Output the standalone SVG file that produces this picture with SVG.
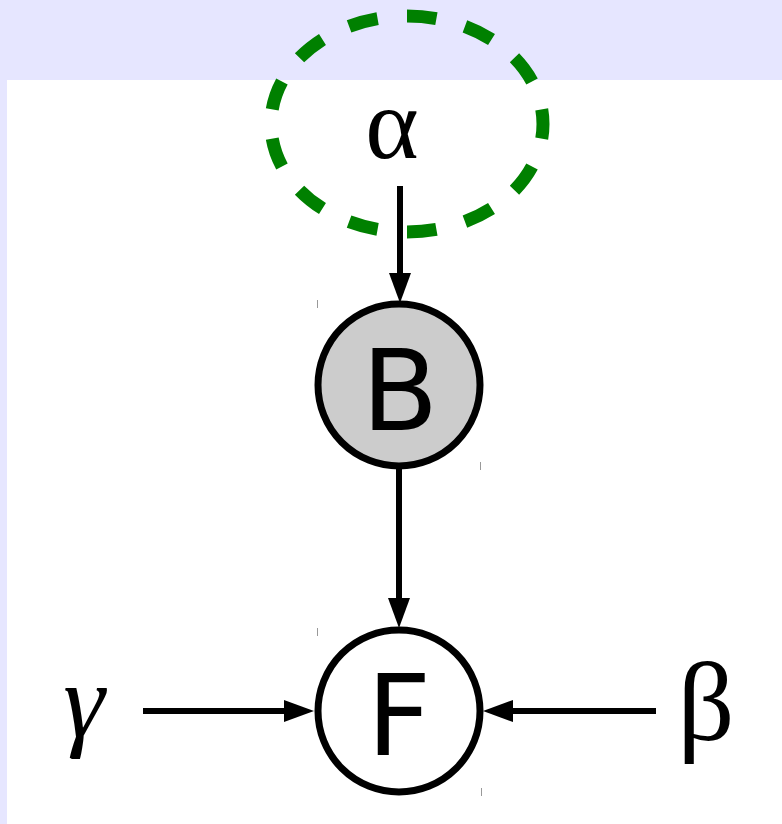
<svg xmlns="http://www.w3.org/2000/svg" width="782" height="824" viewBox="0 0 782 824">
  <style>
    .edge { stroke: #000; stroke-width: 6; fill: none; }
    .node { stroke: #000; stroke-width: 7; }
    .letter { font-family: "DejaVu Sans", sans-serif; font-size: 112px; fill: #000; }
    .tick { stroke: #999; stroke-width: 1; }
  </style>
  <defs>
    <marker id="arrow" viewBox="0 0 30 22" refX="20" refY="11" markerWidth="30" markerHeight="22" markerUnits="userSpaceOnUse" orient="auto">
      <path d="M0,0 L30,11 L0,22 z" fill="#000"/>
    </marker>
  </defs>
  <rect x="0" y="0" width="782" height="824" fill="#e6e6ff"/>
  <rect x="7" y="80" width="775" height="744" fill="#fff"/>

  <g id="alpha">
    <ellipse cx="407" cy="124" rx="136" ry="108" fill="none" stroke="#008000" stroke-width="13" pathLength="260" stroke-dasharray="10 10" stroke-dashoffset="5"/>
    <text x="392" y="158" text-anchor="middle" font-family="Liberation Serif, serif" font-size="102px" fill="#000">α</text>
  </g>

  <g id="connectors">
    <line class="edge" x1="400" y1="186" x2="400" y2="293" marker-end="url(#arrow)"/>
    <line class="edge" x1="399" y1="467" x2="399" y2="618" marker-end="url(#arrow)"/>
    <line class="edge" x1="143" y1="711" x2="304" y2="711" marker-end="url(#arrow)"/>
    <line class="edge" x1="656" y1="711" x2="493" y2="711" marker-end="url(#arrow)"/>
  </g>

  <g id="B">
    <circle class="node" cx="399" cy="385" r="81" fill="#cccccc"/>
    <text class="letter" x="400" y="430" text-anchor="middle">B</text>
    <line class="tick" x1="317.5" y1="300" x2="317.5" y2="308"/>
    <line class="tick" x1="480.5" y1="462" x2="480.5" y2="470"/>
  </g>

  <g id="F">
    <circle class="node" cx="399" cy="711" r="81" fill="#fff"/>
    <text class="letter" x="399" y="755" text-anchor="middle">F</text>
    <line class="tick" x1="317.5" y1="628" x2="317.5" y2="636"/>
    <line class="tick" x1="481.5" y1="788" x2="481.5" y2="796"/>
  </g>

  <g id="gamma">
    <text x="84" y="736" text-anchor="middle" font-family="Liberation Serif, serif" font-style="italic" font-size="105px" fill="#000">γ</text>
  </g>

  <g id="beta">
    <text x="706" y="740" text-anchor="middle" font-family="Liberation Serif, serif" font-size="112px" fill="#000">β</text>
  </g>
</svg>
